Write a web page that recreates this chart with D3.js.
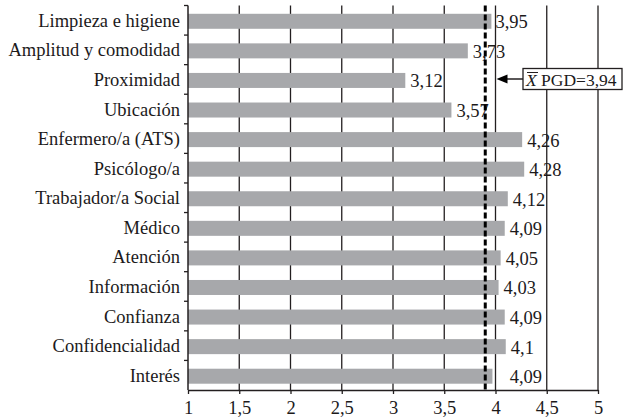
<!DOCTYPE html>
<html>
<head>
<meta charset="utf-8">
<script src="https://cdn.jsdelivr.net/npm/d3@7"></script>
<style>
  body { margin: 0; background: #fff; }
  text { font-family: "Liberation Serif", "Times New Roman", serif; fill: #1c1a1b; }
</style>
</head>
<body>
<div class="canva"></div>
<script>
const categories = ["Limpieza e higiene", "Amplitud y comodidad", "Proximidad", "Ubicación",
  "Enfermero/a (ATS)", "Psicólogo/a", "Trabajador/a Social", "Médico", "Atención",
  "Información", "Confianza", "Confidencialidad", "Interés"];
// bar lengths as drawn in the picture
const barValues = [3.96, 3.73, 3.12, 3.57, 4.26, 4.28, 4.12, 4.09, 4.05, 4.03, 4.09, 4.1, 3.97];
// printed labels
const labelValues = [3.95, 3.73, 3.12, 3.57, 4.26, 4.28, 4.12, 4.09, 4.05, 4.03, 4.09, 4.1, 4.09];
const xTicks = [1, 1.5, 2, 2.5, 3, 3.5, 4, 4.5, 5];
const meanLine = 3.9;
const meanLabel = "3,94";

const W = 627, H = 418;
const margin = {top: 5.5, right: 29, bottom: 28, left: 188};
const graphWidth = W - margin.left - margin.right;
const graphHeight = H - margin.top - margin.bottom;

const svg = d3.select(".canva").append("svg")
  .attr("width", W).attr("height", H);

const graph = svg.append("g")
  .attr("transform", `translate(${margin.left}, ${margin.top})`);

const x = d3.scaleLinear().domain([1, 5]).range([0, graphWidth]);
const y = d3.scaleBand().domain(categories).range([0, graphHeight]);
const fmt = v => String(v).replace(".", ",");
const ink = "#231f20";

// vertical grid lines
graph.append("g").selectAll("line")
  .data(xTicks.slice(1))
  .enter().append("line")
  .attr("x1", d => x(d)).attr("x2", d => x(d))
  .attr("y1", 0).attr("y2", graphHeight)
  .attr("stroke", ink).attr("stroke-width", 1.3);

// bars
const barH = 15;
graph.append("g").selectAll("rect")
  .data(categories)
  .enter().append("rect")
  .attr("x", x(1))
  .attr("y", d => y(d) + y.bandwidth() / 2 - barH / 2 + 1)
  .attr("width", (d, i) => x(barValues[i]) - x(1))
  .attr("height", barH)
  .attr("fill", "#a7a8ab");

// value labels
graph.append("g").selectAll("text")
  .data(categories)
  .enter().append("text")
  .attr("x", (d, i) => x(labelValues[i]) + 5)
  .attr("y", d => y(d) + y.bandwidth() / 2 + 8)
  .attr("font-size", 18.5)
  .text((d, i) => fmt(labelValues[i]));

// mean dashed line
graph.append("line")
  .attr("x1", x(meanLine)).attr("x2", x(meanLine))
  .attr("y1", 0).attr("y2", graphHeight)
  .attr("stroke", "#000").attr("stroke-width", 3)
  .attr("stroke-dasharray", "6,3");

// x axis
const xAxis = d3.axisBottom(x).tickValues(xTicks).tickFormat(fmt).tickSize(4).tickSizeOuter(0);
const xAxisGroup = graph.append("g")
  .attr("transform", `translate(0, ${graphHeight})`)
  .call(xAxis);
xAxisGroup.select(".domain").attr("stroke", ink).attr("stroke-width", 1.5);
xAxisGroup.selectAll(".tick line").attr("stroke", ink).attr("stroke-width", 1.3);
xAxisGroup.selectAll(".tick text")
  .attr("font-size", 18.5).attr("font-family", "Liberation Serif, serif")
  .attr("fill", "#1c1a1b").attr("dy", "0.9em");

// y axis: ticks at band boundaries
const yAxisGroup = graph.append("g");
yAxisGroup.append("line")
  .attr("x1", 0).attr("x2", 0).attr("y1", 0).attr("y2", graphHeight)
  .attr("stroke", ink).attr("stroke-width", 1.5);
yAxisGroup.selectAll(".bt")
  .data(categories)
  .enter().append("line")
  .attr("x1", -4).attr("x2", 0)
  .attr("y1", d => y(d)).attr("y2", d => y(d))
  .attr("stroke", ink).attr("stroke-width", 1.3);
yAxisGroup.selectAll("text")
  .data(categories)
  .enter().append("text")
  .attr("x", -8)
  .attr("y", d => y(d) + y.bandwidth() / 2 + 6.5)
  .attr("text-anchor", "end")
  .attr("font-size", 18.5)
  .text(d => d);

// annotation box with arrow
const ann = svg.append("g");
const arrowY = 79;
const boxX = 523, boxW = 99, boxH = 21;
ann.append("line")
  .attr("x1", margin.left + x(4) + 9).attr("x2", boxX)
  .attr("y1", arrowY).attr("y2", arrowY)
  .attr("stroke", ink).attr("stroke-width", 1.5);
const tip = margin.left + x(4) + 1;
ann.append("path")
  .attr("d", `M${tip},${arrowY} L${tip + 11},${arrowY - 4.5} L${tip + 11},${arrowY + 4.5} Z`)
  .attr("fill", "#000");
ann.append("rect")
  .attr("x", boxX).attr("y", arrowY - boxH / 2)
  .attr("width", boxW).attr("height", boxH)
  .attr("fill", "#fff").attr("stroke", ink).attr("stroke-width", 1.3);
const annText = ann.append("text")
  .attr("x", boxX + 3).attr("y", arrowY + 6.5)
  .attr("font-size", 17.5);
annText.append("tspan").attr("font-style", "italic").text("X");
annText.append("tspan").text(" PGD=" + meanLabel);
// bar over the X (mean symbol)
ann.append("line")
  .attr("x1", boxX + 4).attr("x2", boxX + 15)
  .attr("y1", arrowY - 6.5).attr("y2", arrowY - 6.5)
  .attr("stroke", ink).attr("stroke-width", 1);
</script>
</body>
</html>
